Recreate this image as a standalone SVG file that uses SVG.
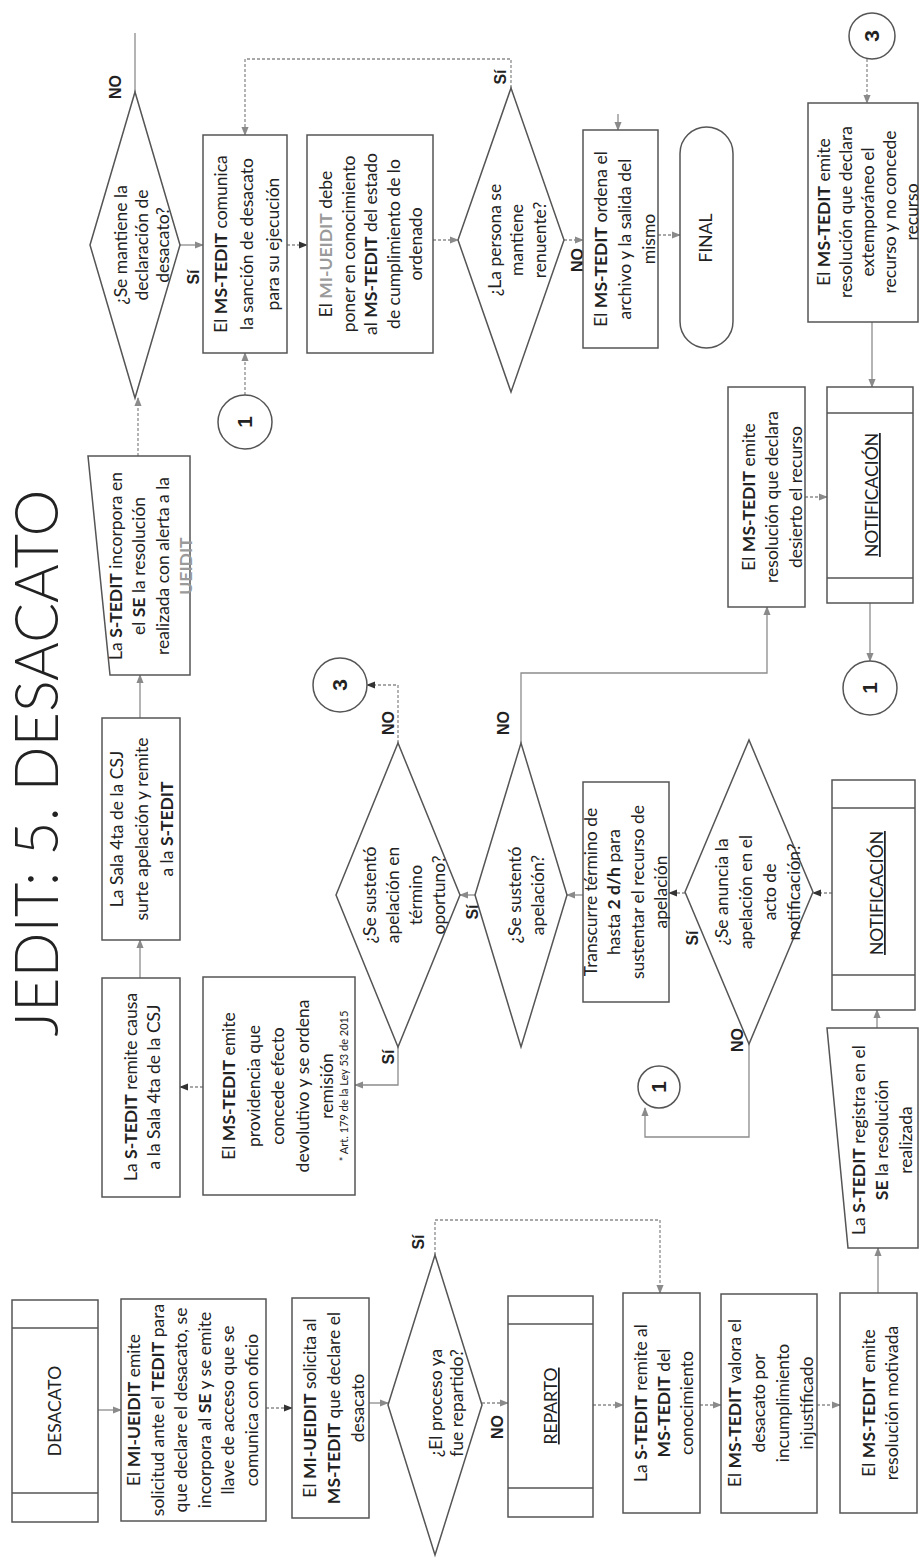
<svg xmlns="http://www.w3.org/2000/svg" width="923" height="1561" viewBox="0 0 923 1561">
<style>
.b{fill:#fff;stroke:#555;stroke-width:1.5}
.il{stroke:#555;stroke-width:1.5}
.t{font-family:Lato,"Open Sans","Liberation Sans",sans-serif;font-size:17.5px;fill:#222;text-anchor:middle}
.bd{font-weight:bold}
.gr{fill:#9a9a9a;font-weight:bold}
.lb{font-family:"Liberation Sans",Arial,sans-serif;font-size:16px;font-weight:bold;fill:#222;text-anchor:middle}
.num{font-family:"Liberation Sans",Arial,sans-serif;font-size:21px;font-weight:bold;fill:#222;text-anchor:middle}
.c{fill:none;stroke:#8c8c8c;stroke-width:1.3}
.d{stroke-dasharray:3 2}
.ttl{font-family:Lato,"Open Sans",sans-serif;font-weight:300;font-size:62px;fill:#222;text-anchor:middle}
.sm{font-size:11px}
</style>
<defs>
<marker id="ah" viewBox="0 0 10 10" refX="9" refY="5" markerUnits="userSpaceOnUse" markerWidth="9" markerHeight="9" orient="auto"><path d="M0,1 L10,5 L0,9 z" fill="#8a8a8a"/></marker>
<marker id="ahd" viewBox="0 0 10 10" refX="9" refY="5" markerUnits="userSpaceOnUse" markerWidth="9" markerHeight="9" orient="auto"><path d="M0,1 L10,5 L0,9 z" fill="#333"/></marker>
</defs>
<rect width="923" height="1561" fill="#fff"/>

<g id="title"><text class="ttl" transform="translate(58 763) rotate(-90)" x="0" y="0" textLength="547" lengthAdjust="spacingAndGlyphs">JEDIT: 5. DESACATO</text></g>

<g id="connectors">
<path class="c" d="M98,1410 H121" marker-end="url(#ah)"/>
<path class="c d" d="M266,1408 H292" marker-end="url(#ahd)"/>
<path class="c" d="M369,1403 H388" marker-end="url(#ah)"/>
<path class="c d" d="M482,1403 H508" marker-end="url(#ah)"/>
<path class="c d" d="M435,1255 V1220 H660 V1293" marker-end="url(#ah)"/>
<path class="c d" d="M593,1405 H623" marker-end="url(#ah)"/>
<path class="c d" d="M700,1405 H721" marker-end="url(#ah)"/>
<path class="c d" d="M817,1405 H840" marker-end="url(#ah)"/>
<path class="c" d="M878,1293 V1248" marker-end="url(#ah)"/>
<path class="c" d="M877,1028 V1010" marker-end="url(#ah)"/>
<path class="c d" d="M832,893 H813" marker-end="url(#ahd)"/>
<path class="c d" d="M685,893 H669" marker-end="url(#ahd)"/>
<path class="c" d="M749,1044 V1137 H645 V1108" marker-end="url(#ah)"/>
<path class="c" d="M583,895 H567" marker-end="url(#ah)"/>
<path class="c" d="M475,895 H460" marker-end="url(#ah)"/>
<path class="c" d="M521,743 V673 H767 V607" marker-end="url(#ah)"/>
<path class="c d" d="M805,497 H827" marker-end="url(#ah)"/>
<path class="c" d="M870,603 V661" marker-end="url(#ah)"/>
<path class="c d" d="M867,59 V103" marker-end="url(#ah)"/>
<path class="c" d="M872,322 V387" marker-end="url(#ah)"/>
<path class="c d" d="M398,743 V685 H367" marker-end="url(#ahd)"/>
<path class="c" d="M398,1047 V1085 H355" marker-end="url(#ah)"/>
<path class="c d" d="M203,1087 H180" marker-end="url(#ahd)"/>
<path class="c" d="M140,978 V940" marker-end="url(#ah)"/>
<path class="c" d="M140,718 V675" marker-end="url(#ah)"/>
<path class="c d" d="M138,456 V398" marker-end="url(#ah)"/>
<path class="c" d="M135,92 V33"/>
<path class="c" d="M180,245 H203" marker-end="url(#ah)"/>
<path class="c d" d="M245,395 V353" marker-end="url(#ah)"/>
<path class="c d" d="M287,245 H307" marker-end="url(#ahd)"/>
<path class="c d" d="M433,240 H458" marker-end="url(#ah)"/>
<path class="c d" d="M511,88 V59 H245 V135" marker-end="url(#ah)"/>
<path class="c d" d="M564,240 H583" marker-end="url(#ah)"/>
<path class="c d" d="M658,235 H680" marker-end="url(#ah)"/>
<path class="c" d="M618,114 V130" marker-end="url(#ah)"/>
</g>

<g id="n-desacato"><rect class="b" x="12" y="1300" width="86" height="222"/><line class="il" x1="12" y1="1328" x2="98" y2="1328"/><line class="il" x1="12" y1="1493" x2="98" y2="1493"/>
<text class="t" transform="translate(55 1411) rotate(-90)" x="0" y="6">DESACATO</text></g>

<g id="n-solicitud"><rect class="b" x="121" y="1299" width="145" height="222"/>
<text class="t" transform="translate(193 1410) rotate(-90)"><tspan x="0" y="-52.75">El <tspan class="bd">MI-UEIDIT</tspan> emite</tspan><tspan x="0" y="-29.25">solicitud ante el <tspan class="bd">TEDIT</tspan> para</tspan><tspan x="0" y="-5.75">que declare el desacato, se</tspan><tspan x="0" y="17.75">incorpora al <tspan class="bd">SE</tspan> y se emite</tspan><tspan x="0" y="41.25">llave de acceso que se</tspan><tspan x="0" y="64.75">comunica con oficio</tspan></text></g>

<g id="n-solicita"><rect class="b" x="292" y="1298" width="77" height="220"/>
<text class="t" transform="translate(334 1408) rotate(-90)"><tspan x="0" y="-18">El <tspan class="bd">MI-UEIDIT</tspan> solicita al</tspan><tspan x="0" y="6"><tspan class="bd">MS-TEDIT</tspan> que declare el</tspan><tspan x="0" y="30">desacato</tspan></text></g>

<g id="n-repartido"><polygon class="b" points="388,1405 435,1255 482,1405 435,1555"/>
<text class="t" transform="translate(446 1403) rotate(-90)"><tspan x="0" y="-4.5">¿El proceso ya</tspan><tspan x="0" y="16.5">fue repartido?</tspan></text>
<text class="lb" transform="translate(418 1242) rotate(-90)" x="0" y="6">Sí</text>
<text class="lb" transform="translate(497 1427) rotate(-90)" x="0" y="6">NO</text></g>

<g id="n-reparto"><rect class="b" x="508" y="1296" width="85" height="221"/><line class="il" x1="508" y1="1324" x2="593" y2="1324"/><line class="il" x1="508" y1="1488" x2="593" y2="1488"/>
<text class="t" transform="translate(551 1406) rotate(-90)" x="0" y="6" text-decoration="underline">REPARTO</text></g>

<g id="n-remite-al"><rect class="b" x="623" y="1293" width="77" height="220"/>
<text class="t" transform="translate(664 1403) rotate(-90)"><tspan x="0" y="-17">La <tspan class="bd">S-TEDIT</tspan> remite al</tspan><tspan x="0" y="6"><tspan class="bd">MS-TEDIT</tspan> del</tspan><tspan x="0" y="29">conocimiento</tspan></text></g>

<g id="n-valora"><rect class="b" x="721" y="1294" width="96" height="219"/>
<text class="t" transform="translate(771 1403) rotate(-90)"><tspan x="0" y="-30">El <tspan class="bd">MS-TEDIT</tspan> valora el</tspan><tspan x="0" y="-6">desacato por</tspan><tspan x="0" y="18">incumplimiento</tspan><tspan x="0" y="42">injustificado</tspan></text></g>

<g id="n-motivada"><rect class="b" x="840" y="1293" width="77" height="220"/>
<text class="t" transform="translate(880 1403) rotate(-90)"><tspan x="0" y="-5.5">El <tspan class="bd">MS-TEDIT</tspan> emite</tspan><tspan x="0" y="17.5">resolución motivada</tspan></text></g>

<g id="n-registra"><polygon class="b" points="827,1028 918,1028 918,1248 848,1248"/>
<text class="t" transform="translate(882 1140) rotate(-90)"><tspan x="0" y="-17.5">La <tspan class="bd">S-TEDIT</tspan> registra en el</tspan><tspan x="0" y="6"><tspan class="bd">SE</tspan> la resolución</tspan><tspan x="0" y="29.5">realizada</tspan></text></g>

<g id="n-notif1"><rect class="b" x="832" y="780" width="83" height="230"/><line class="il" x1="832" y1="808" x2="915" y2="808"/><line class="il" x1="832" y1="975" x2="915" y2="975"/>
<text class="t" transform="translate(877 893) rotate(-90)" x="0" y="6" text-decoration="underline">NOTIFICACIÓN</text></g>

<g id="n-anuncia"><polygon class="b" points="685,892 749,740 813,892 749,1044"/>
<text class="t" transform="translate(758 892) rotate(-90)"><tspan x="0" y="-30">¿Se anuncia la</tspan><tspan x="0" y="-6">apelación en el</tspan><tspan x="0" y="18">acto de</tspan><tspan x="0" y="42">notificación?</tspan></text>
<text class="lb" transform="translate(692 938) rotate(-90)" x="0" y="6">Sí</text>
<text class="lb" transform="translate(737 1040) rotate(-90)" x="0" y="6">NO</text></g>

<g id="n-transcurre"><rect class="b" x="583" y="782" width="86" height="220"/>
<text class="t" transform="translate(626 892) rotate(-90)"><tspan x="0" y="-29.25">Transcurre término de</tspan><tspan x="0" y="-5.75">hasta <tspan class="bd">2 d/h</tspan>  para</tspan><tspan x="0" y="17.75">sustentar el recurso de</tspan><tspan x="0" y="41.25">apelación</tspan></text></g>

<g id="n-sustento"><polygon class="b" points="475,895 521,743 567,895 521,1047"/>
<text class="t" transform="translate(526 895) rotate(-90)"><tspan x="0" y="-5.5">¿Se sustentó</tspan><tspan x="0" y="17.5">apelación?</tspan></text>
<text class="lb" transform="translate(472 912) rotate(-90)" x="0" y="6">Sí</text>
<text class="lb" transform="translate(503 723) rotate(-90)" x="0" y="6">NO</text></g>

<g id="n-oportuno"><polygon class="b" points="336,895 398,743 460,895 398,1047"/>
<text class="t" transform="translate(404 895) rotate(-90)"><tspan x="0" y="-28.5">¿Se sustentó</tspan><tspan x="0" y="-5.5">apelación en</tspan><tspan x="0" y="17.5">término</tspan><tspan x="0" y="40.5">oportuno?</tspan></text>
<text class="lb" transform="translate(388 1057) rotate(-90)" x="0" y="6">Sí</text>
<text class="lb" transform="translate(388 723) rotate(-90)" x="0" y="6">NO</text></g>

<g id="n-providencia"><rect class="b" x="203" y="977" width="152" height="218"/>
<text class="t" transform="translate(278 1086) rotate(-90)"><tspan x="0" y="-43">El <tspan class="bd">MS-TEDIT</tspan> emite</tspan><tspan x="0" y="-18.5">providencia que</tspan><tspan x="0" y="6">concede efecto</tspan><tspan x="0" y="30.5">devolutivo y se ordena</tspan><tspan x="0" y="55">remisión</tspan><tspan x="0" y="70" class="sm">* Art. 179 de la Ley 53 de 2015</tspan></text></g>

<g id="n-remite-causa"><rect class="b" x="102" y="978" width="78" height="219"/>
<text class="t" transform="translate(142 1087) rotate(-90)"><tspan x="0" y="-5.5">La <tspan class="bd">S-TEDIT</tspan> remite causa</tspan><tspan x="0" y="17.5">a la Sala 4ta de la CSJ</tspan></text></g>

<g id="n-sala"><rect class="b" x="102" y="718" width="78" height="222"/>
<text class="t" transform="translate(142 829) rotate(-90)"><tspan x="0" y="-19">La Sala 4ta de la CSJ</tspan><tspan x="0" y="6">surte apelación y remite</tspan><tspan x="0" y="31">a la <tspan class="bd">S-TEDIT</tspan></tspan></text></g>

<g id="n-incorpora"><polygon class="b" points="88,456 190,456 190,675 110,675"/>
<text class="t" transform="translate(151 566) rotate(-90)"><tspan x="0" y="-29.25">La <tspan class="bd">S-TEDIT</tspan> incorpora en</tspan><tspan x="0" y="-5.75">el <tspan class="bd">SE</tspan> la resolución</tspan><tspan x="0" y="17.75">realizada con alerta a la</tspan><tspan x="0" y="41.25" class="gr">UEIDIT</tspan></text></g>

<g id="n-mantiene"><polygon class="b" points="90,245 135,92 180,245 135,398"/>
<text class="t" transform="translate(142 245) rotate(-90)"><tspan x="0" y="-15">¿Se mantiene la</tspan><tspan x="0" y="6">declaración de</tspan><tspan x="0" y="27">desacato?</tspan></text>
<text class="lb" transform="translate(115 87) rotate(-90)" x="0" y="6">NO</text>
<text class="lb" transform="translate(193 277) rotate(-90)" x="0" y="6">Sí</text></g>

<g id="n-comunica"><rect class="b" x="203" y="135" width="84" height="218"/>
<text class="t" transform="translate(247 244) rotate(-90)"><tspan x="0" y="-20">El <tspan class="bd">MS-TEDIT</tspan> comunica</tspan><tspan x="0" y="6">la sanción de desacato</tspan><tspan x="0" y="32">para su ejecución</tspan></text></g>

<g id="n-debe"><rect class="b" x="307" y="135" width="126" height="218"/>
<text class="t" transform="translate(371 244) rotate(-90)"><tspan x="0" y="-39">El <tspan class="gr">MI-UEIDIT</tspan> debe</tspan><tspan x="0" y="-16.5">poner en conocimiento</tspan><tspan x="0" y="6">al <tspan class="bd">MS-TEDIT</tspan> del estado</tspan><tspan x="0" y="28.5">de cumplimiento de lo</tspan><tspan x="0" y="51">ordenado</tspan></text></g>

<g id="n-renuente"><polygon class="b" points="458,240 511,88 564,240 511,392"/>
<text class="t" transform="translate(517 240) rotate(-90)"><tspan x="0" y="-16.5">¿La persona se</tspan><tspan x="0" y="6">mantiene</tspan><tspan x="0" y="28.5">renuente?</tspan></text>
<text class="lb" transform="translate(500 77) rotate(-90)" x="0" y="6">Sí</text>
<text class="lb" transform="translate(577 260) rotate(-90)" x="0" y="6">NO</text></g>

<g id="n-ordena"><rect class="b" x="583" y="130" width="75" height="218"/>
<text class="t" transform="translate(625 239) rotate(-90)"><tspan x="0" y="-18">El <tspan class="bd">MS-TEDIT</tspan> ordena el</tspan><tspan x="0" y="6">archivo y la salida del</tspan><tspan x="0" y="30">mismo</tspan></text></g>

<g id="n-final"><rect class="b" x="680" y="127" width="53" height="221" rx="26.5" ry="26.5"/>
<text class="t" transform="translate(706 238) rotate(-90)" x="0" y="6">FINAL</text></g>

<g id="n-extemporaneo"><rect class="b" x="808" y="103" width="110" height="219"/>
<text class="t" transform="translate(868 212) rotate(-90)"><tspan x="0" y="-38">El <tspan class="bd">MS-TEDIT</tspan> emite</tspan><tspan x="0" y="-16">resolución que declara</tspan><tspan x="0" y="6">extemporáneo el</tspan><tspan x="0" y="28">recurso y no concede</tspan><tspan x="0" y="50">recurso</tspan></text></g>

<g id="n-desierto"><rect class="b" x="728" y="387" width="77" height="220"/>
<text class="t" transform="translate(772 497) rotate(-90)"><tspan x="0" y="-17.5">El <tspan class="bd">MS-TEDIT</tspan> emite</tspan><tspan x="0" y="6">resolución que declara</tspan><tspan x="0" y="29.5">desierto el recurso</tspan></text></g>

<g id="n-notif2"><rect class="b" x="827" y="387" width="86" height="216"/><line class="il" x1="827" y1="413" x2="913" y2="413"/><line class="il" x1="827" y1="578" x2="913" y2="578"/>
<text class="t" transform="translate(872 495) rotate(-90)" x="0" y="6" text-decoration="underline">NOTIFICACIÓN</text></g>

<g id="c1-top"><circle class="b" cx="245" cy="422" r="27"/><text class="num" transform="translate(245 422) rotate(-90)" x="0" y="7">1</text></g>
<g id="c3-mid"><circle class="b" cx="340" cy="685" r="27"/><text class="num" transform="translate(340 685) rotate(-90)" x="0" y="7">3</text></g>
<g id="c1-mid"><circle class="b" cx="659" cy="1087" r="21"/><text class="num" transform="translate(659 1087) rotate(-90)" x="0" y="7">1</text></g>
<g id="c1-right"><circle class="b" cx="870" cy="688" r="27"/><text class="num" transform="translate(870 688) rotate(-90)" x="0" y="7">1</text></g>
<g id="c3-right"><circle class="b" cx="872" cy="36" r="23"/><text class="num" transform="translate(872 36) rotate(-90)" x="0" y="7">3</text></g>
</svg>
